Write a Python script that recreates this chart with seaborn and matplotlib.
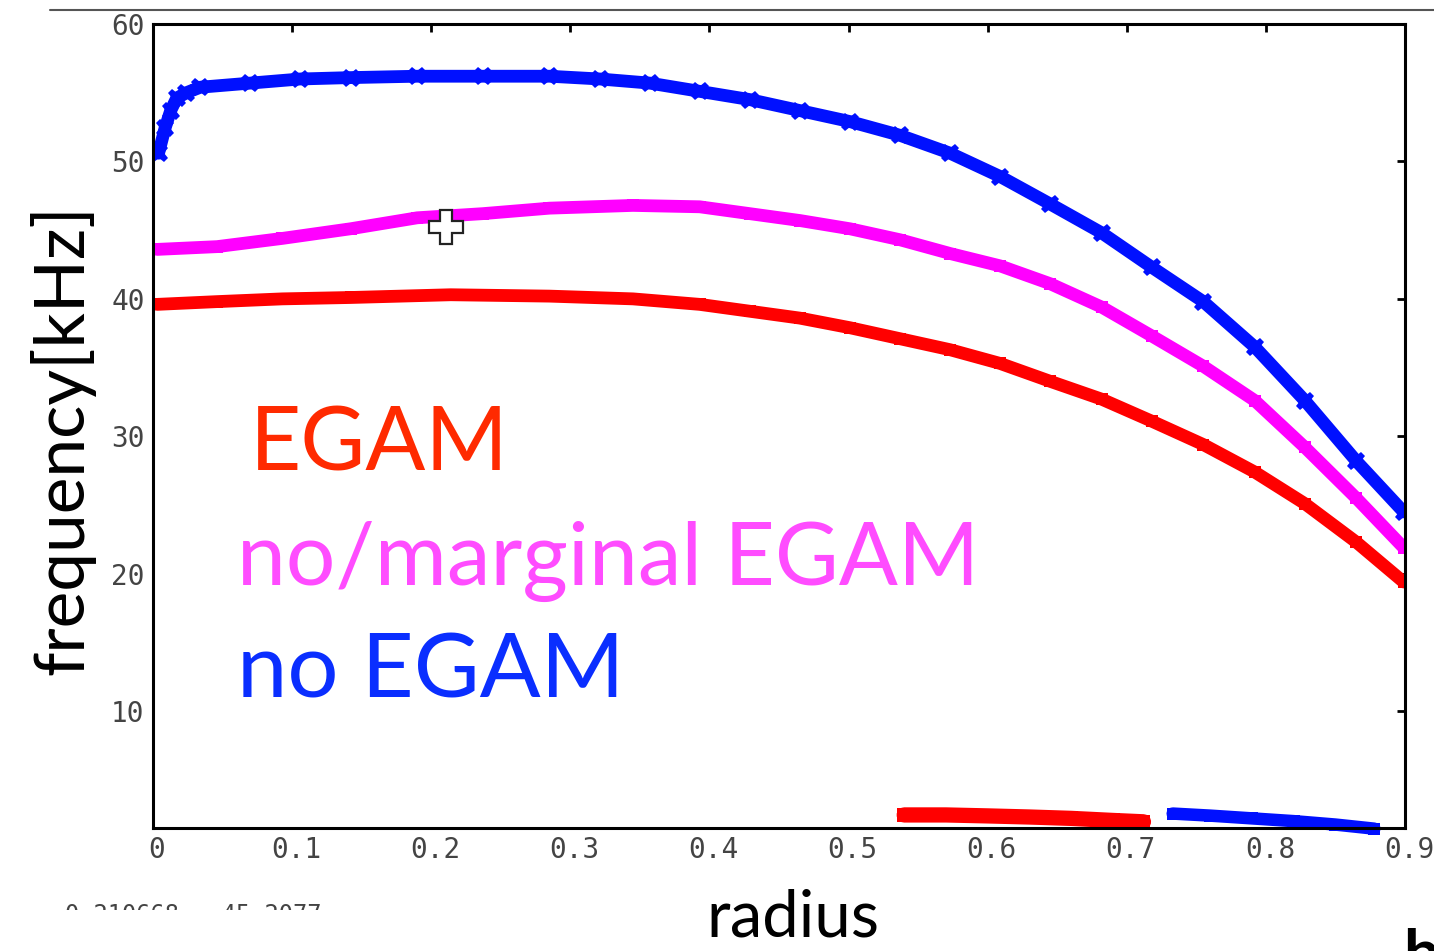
import numpy as np
import pandas as pd
import matplotlib
matplotlib.use("Agg")
import matplotlib.pyplot as plt
import matplotlib.transforms as mtransforms
from matplotlib import font_manager
from matplotlib.patches import Rectangle
import seaborn as sns

# ---- data: frequency profiles vs. normalised radius ----
r_no_egam = [0.004, 0.0086, 0.0127, 0.017, 0.024, 0.034, 0.070, 0.106, 0.142, 0.190,
             0.237, 0.285, 0.321, 0.357, 0.393, 0.429, 0.465, 0.501, 0.537, 0.573,
             0.609, 0.645, 0.682, 0.718, 0.755, 0.792, 0.828, 0.865, 0.899]
f_no_egam = [50.6, 52.4, 53.7, 54.6, 55.0, 55.4, 55.7, 56.0, 56.1, 56.2,
             56.2, 56.2, 56.0, 55.7, 55.1, 54.5, 53.7, 52.9, 51.9, 50.6,
             48.9, 46.9, 44.8, 42.3, 39.8, 36.5, 32.6, 28.2, 24.5]

r_marginal = [0.003, 0.046, 0.093, 0.142, 0.190, 0.237, 0.285, 0.345, 0.393, 0.429,
              0.465, 0.501, 0.537, 0.573, 0.609, 0.645, 0.682, 0.718, 0.755, 0.792,
              0.828, 0.865, 0.899]
f_marginal = [43.6, 43.8, 44.4, 45.1, 45.9, 46.2, 46.6, 46.8, 46.7, 46.2,
              45.7, 45.1, 44.3, 43.3, 42.4, 41.1, 39.4, 37.3, 35.1, 32.6,
              29.2, 25.5, 21.9]

r_egam = [0.003, 0.046, 0.093, 0.142, 0.214, 0.285, 0.345, 0.393, 0.429, 0.465,
          0.501, 0.537, 0.573, 0.609, 0.645, 0.682, 0.718, 0.755, 0.792, 0.828,
          0.865, 0.899]
f_egam = [39.6, 39.8, 40.0, 40.1, 40.3, 40.2, 40.0, 39.6, 39.1, 38.6,
          37.9, 37.1, 36.3, 35.3, 34.0, 32.7, 31.1, 29.4, 27.4, 25.1,
          22.3, 19.4]

# low-frequency branches near the axis
r_egam_low = [0.540, 0.570, 0.600, 0.630, 0.660, 0.690, 0.712]
f_egam_low = [2.45, 2.45, 2.38, 2.30, 2.20, 2.05, 1.95]
r_no_egam_low = [0.733, 0.760, 0.790, 0.820, 0.850, 0.878]
f_no_egam_low = [2.55, 2.40, 2.20, 2.00, 1.75, 1.45]

# cursor read-out
cursor_r = 0.210668
cursor_f = 45.2077

x_ticks = [0, 0.1, 0.2, 0.3, 0.4, 0.5, 0.6, 0.7, 0.8, 0.9]
x_ticklabels = ["0", "0.1", "0.2", "0.3", "0.4", "0.5", "0.6", "0.7", "0.8", "0.9"]
y_ticks = [10, 20, 30, 40, 50, 60]
y_ticklabels = ["10", "20", "30", "40", "50", "60"]

# ---- styling ----
sns.set_theme(style="white")
plt.rcParams["font.family"] = ["Lato", "DejaVu Sans"]

available = {f.name for f in font_manager.fontManager.ttflist}
tick_family = next((f for f in ["Liberation Sans Narrow", "DejaVu Sans Mono"] if f in available),
                   "DejaVu Sans")

W, H = 1434, 951
fig = plt.figure(figsize=(W / 100, H / 100), dpi=100)
ax = fig.add_axes([153 / W, 1 - 828 / H, (1405 - 153) / W, (828 - 24) / H])

c_blue, c_mag, c_red = "#0010FF", "#FF00FF", "#FF0000"
lw = 9.2

sns.lineplot(x=r_egam, y=f_egam, ax=ax, color=c_red, lw=lw, marker="s",
             markersize=9, markeredgewidth=0, sort=False)
sns.lineplot(x=r_marginal, y=f_marginal, ax=ax, color=c_mag, lw=lw, marker="s",
             markersize=9, markeredgewidth=0, sort=False)
sns.lineplot(x=r_no_egam, y=f_no_egam, ax=ax, color=c_blue, lw=lw, marker="X",
             markersize=13, markeredgewidth=0, sort=False)
sns.lineplot(x=r_egam_low, y=f_egam_low, ax=ax, color=c_red, lw=11, marker="s",
             markersize=10, markeredgewidth=0, sort=False)
sns.lineplot(x=r_no_egam_low, y=f_no_egam_low, ax=ax, color=c_blue, lw=9, marker="s",
             markersize=9, markeredgewidth=0, sort=False)
for ln in ax.lines[-1:]:
    ln.set_clip_on(False)

# cursor cross
ax.plot([cursor_r], [cursor_f], marker="P", markersize=24, mfc="white",
        mec="#222222", mew=1.6, ls="none", zorder=6)

ax.set_xlim(0, 0.9)
ax.set_ylim(1.5, 60)
ax.set_xticks(x_ticks)
ax.set_xticklabels(x_ticklabels)
ax.set_yticks(y_ticks)
ax.set_yticklabels(y_ticklabels)
ax.set_xlabel("")
ax.set_ylabel("")

for s in ax.spines.values():
    s.set_visible(True)
    s.set_color("black")
    s.set_linewidth(2.2)
ax.tick_params(axis="both", which="major", direction="in", length=6, width=2,
               color="black", top=True, right=True, labelsize=20,
               labelcolor="#444444", pad=6)
for lab in ax.get_xticklabels() + ax.get_yticklabels():
    lab.set_family(tick_family)
shift = mtransforms.ScaledTranslation(4 / 100, 0, fig.dpi_scale_trans)
for lab in ax.get_xticklabels():
    lab.set_transform(lab.get_transform() + shift)

# axis titles
fig.text(793 / W, 1 - 918 / H, "radius", ha="center", va="center", fontsize=47,
         color="black")
fig.text(62 / W, 1 - 440 / H, "frequency[kHz]", ha="center", va="center",
         rotation=90, fontsize=50, color="black")

# legend-style captions
fig.text(250 / W, 1 - 470 / H, "EGAM", fontsize=64, color="#FF2A00",
         ha="left", va="baseline")
fig.text(237 / W, 1 - 585 / H, "no/marginal EGAM", fontsize=63, color="#FF4CFF",
         ha="left", va="baseline")
fig.text(237 / W, 1 - 697 / H, "no EGAM", fontsize=65, color="#0A2EFF",
         ha="left", va="baseline")

# decorative rule at the top
fig.add_artist(plt.Line2D([50 / W, 1.0], [1 - 10 / H, 1 - 10 / H], color="#555555",
                          lw=1.5, transform=fig.transFigure))

# cursor read-out text, partly hidden
fig.text(65 / W, 1 - 922 / H, f"{cursor_r:.6f}   {cursor_f:.4f}", fontsize=17,
         color="#444444", family=tick_family, ha="left", va="baseline")
fig.add_artist(Rectangle((0, 0), 420 / W, 1 - 910 / H, transform=fig.transFigure,
                         facecolor="white", edgecolor="none", zorder=20))

fig.text(1403 / W, 1 - 975 / H, "b", fontsize=46, fontweight="bold", color="black",
         ha="left", va="baseline")

fig.savefig("out.png", dpi=100)
